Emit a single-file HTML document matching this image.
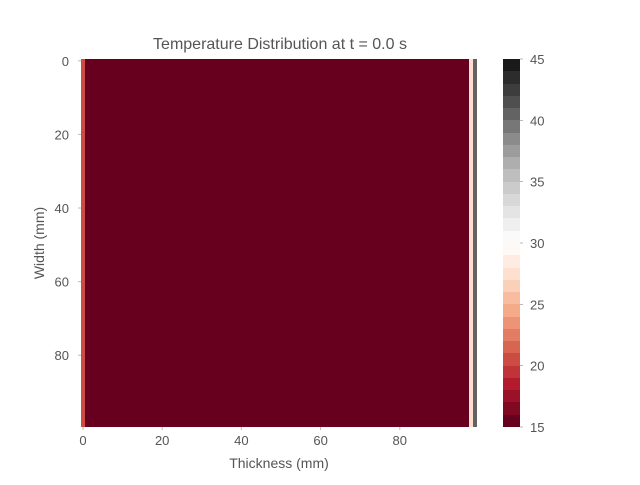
<!DOCTYPE html>
<html><head><meta charset="utf-8"><style>
body{margin:0;background:#fff;}
svg text{font-family:"Liberation Sans","DejaVu Sans",sans-serif;fill:#555;}
</style></head><body>
<svg id="chart" width="640" height="480" xmlns="http://www.w3.org/2000/svg">
<text x="280" y="49" font-size="16" text-anchor="middle">Temperature Distribution at t = 0.0 s</text>
<g id="cells" shape-rendering="crispEdges"></g>
<g id="xaxis"></g>
<g id="yaxis"></g>
<text x="279" y="468" font-size="14" text-anchor="middle">Thickness (mm)</text>
<text transform="translate(44,243) rotate(-90)" font-size="14" text-anchor="middle">Width (mm)</text>
<g id="cbar" shape-rendering="crispEdges"></g>
</svg>
<script>
const columnTemps = [20,15,15,15,15,15,15,15,15,15,15,15,15,15,15,15,15,15,15,15,15,15,15,15,15,15,15,15,15,15,15,15,15,15,15,15,15,15,15,15,15,15,15,15,15,15,15,15,15,15,15,15,15,15,15,15,15,15,15,15,15,15,15,15,15,15,15,15,15,15,15,15,15,15,15,15,15,15,15,15,15,15,15,15,15,15,15,15,15,15,15,15,15,15,15,15,15,15,27,40];
const xTicks = [0,20,40,60,80];
const yTicks = [0,20,40,60,80];
const cbarTicks = [15,20,25,30,35,40,45];
const vmin = 15, vmax = 45, nLevels = 30, nRows = 100;

const NS="http://www.w3.org/2000/svg";
const L=81,R=477,T=59,B=427;
const cw=(R-L)/columnTemps.length, rh=(B-T)/nRows;
const xs=i=>L+(i+0.5)*cw, ys=j=>T+(j+0.5)*rh;
const stops=["#67001f","#b2182b","#d6604d","#f4a582","#fddbc7","#ffffff","#e0e0e0","#bababa","#878787","#4d4d4d","#1a1a1a"];
function hex(h){return [1,3,5].map(k=>parseInt(h.substr(k,2),16));}
function cmap(v){
  let t=(v-vmin)/(vmax-vmin); t=Math.max(0,Math.min(0.9999,t));
  t=Math.floor(t*nLevels)/(nLevels-1);
  const p=t*(stops.length-1), i=Math.min(Math.floor(p),stops.length-2), f=p-i;
  const a=hex(stops[i]), b=hex(stops[i+1]);
  return "rgb("+a.map((c,k)=>Math.round(c+(b[k]-c)*f)).join(",")+")";
}
function el(tag,attrs,parent){const e=document.createElementNS(NS,tag);for(const k in attrs)e.setAttribute(k,attrs[k]);parent.appendChild(e);return e;}
const cells=document.getElementById('cells');
columnTemps.forEach((v,i)=>{
  const r=el('rect',{x:Math.round(L+i*cw),y:T,width:Math.round(L+(i+1)*cw)-Math.round(L+i*cw),height:B-T,fill:cmap(v)},cells);
  
  
});
const xa=document.getElementById('xaxis');
xTicks.forEach(v=>{
  el('line',{x1:xs(v),x2:xs(v),y1:B,y2:B+3,stroke:'#bbb'},xa);
  const t=el('text',{x:xs(v),y:B+18,'font-size':13,'text-anchor':'middle'},xa);t.textContent=v;
  
  
});
const ya=document.getElementById('yaxis');
yTicks.forEach(v=>{
  el('line',{x1:L-3,x2:L,y1:ys(v),y2:ys(v),stroke:'#bbb'},ya);
  const t=el('text',{x:L-12,y:ys(v)+5,'font-size':13,'text-anchor':'end'},ya);t.textContent=v;
  
  
});
const cb=document.getElementById('cbar');
const CL=503,CW=17;
const cy=v=>B-(v-vmin)/(vmax-vmin)*(B-T);
for(let k=0;k<nLevels;k++){
  const v0=vmin+k*(vmax-vmin)/nLevels, v1=vmin+(k+1)*(vmax-vmin)/nLevels;
  const r=el('rect',{x:CL,y:Math.round(cy(v1)),width:CW,height:Math.round(cy(v0))-Math.round(cy(v1)),fill:cmap((v0+v1)/2)},cb);
  
  
}
cbarTicks.forEach(v=>{
  el('line',{x1:CL+CW,x2:CL+CW+3,y1:cy(v),y2:cy(v),stroke:'#bbb'},cb);
  const t=el('text',{x:CL+CW+10,y:cy(v)+5,'font-size':13},cb);t.textContent=v;
  
  
});
</script>
</body></html>
